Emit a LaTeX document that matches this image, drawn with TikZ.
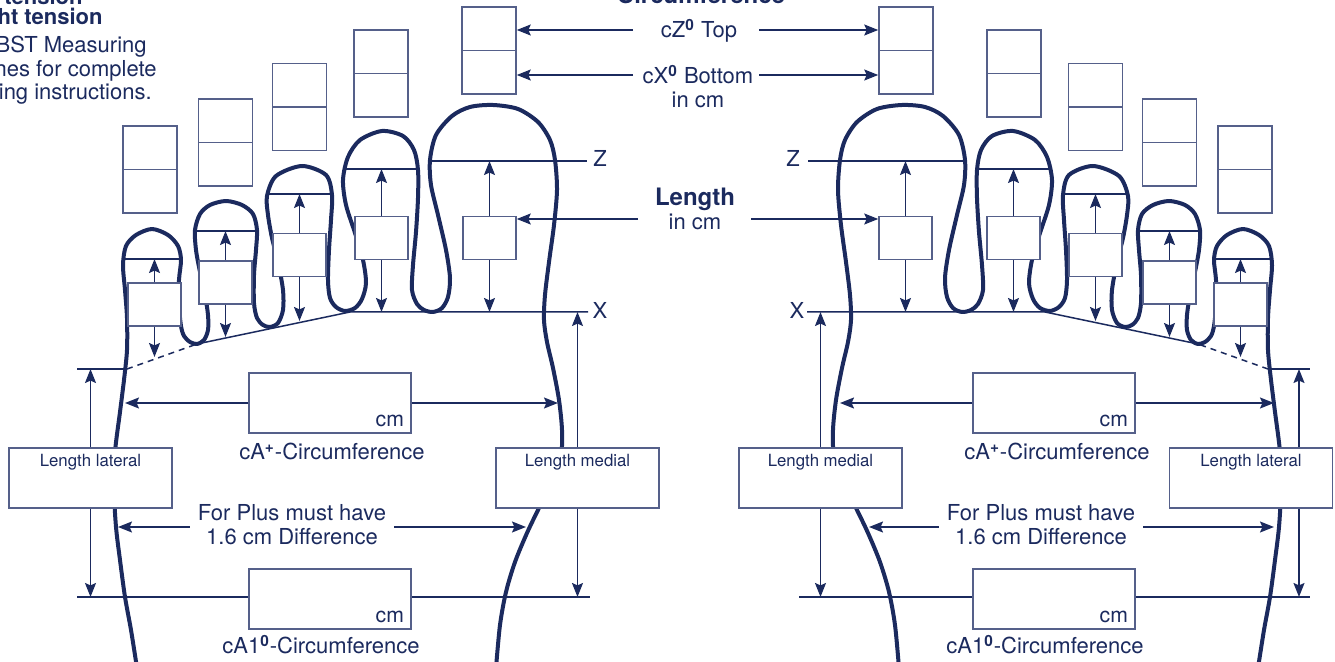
\documentclass[tikz,border=0pt]{standalone}
\usepackage{fontspec}
\setmainfont{TeX Gyre Heros}
\usetikzlibrary{arrows.meta}
\definecolor{navy}{HTML}{1B2A5E}
\definecolor{boxline}{HTML}{55608A}
\tikzset{
  foot/.style={navy,line width=2pt,line join=round},
  fine/.style={navy,line width=0.75pt},
  cbox/.style={draw=boxline,line width=0.75pt,fill=white,minimum width=27pt,minimum height=43.5pt,inner sep=0pt},
  lbox/.style={cbox,minimum width=26.5pt,minimum height=21.5pt},
  sidebox/.style={draw=boxline,line width=0.75pt,fill=white,text=navy,font=\fontsize{8.4}{10}\selectfont,minimum width=81.5pt,inner ysep=3pt,text height=6.5pt,text depth=17.5pt},
  cmbox/.style={draw=boxline,line width=0.75pt,fill=white,text=navy,font=\fontsize{10.6}{12}\selectfont,text width=74pt,inner xsep=3.5pt,align=right,inner ysep=2pt,text height=25pt,text depth=1pt},
  lab/.style={text=navy,font=\fontsize{11}{12}\selectfont,inner sep=0pt},
  hd/.style={text=navy,font=\bfseries\fontsize{12}{12}\selectfont,inner sep=0pt}
}
% one foot, toes and outline; mirrored for the right one
\newcommand\halffoot[1]{%
  \draw[foot] plot[smooth,tension=0.5] coordinates {(137,668) (131,630) (125,597) (120,560) (116,527) (114,490) (115,452) (120,412) (124,380) (127,350) (127,318) (125,290) (123,265) (126,246) (136,235) (152,229) (168,235) (178,246) (181,260) (179,280) (179,305) (181,326) (184,336) (190,342) (197,344) (204,340) (208,330) (208,315) (205,295) (200,272) (196,250) (195,230) (200,214) (210,205) (226,201) (242,205) (253,214) (257,230) (256,250) (254,275) (254,303) (257,318) (263,325) (270,327) (278,323) (283,310) (283,290) (278,262) (272,238) (268,215) (267,196) (276,176) (302,166) (326,175) (332,195) (331,220) (329,250) (328,280) (330,298) (336,307) (345,311) (355,308) (362,299) (366,283) (363,260) (355,233) (346,205) (343,180) (348,157) (360,140) (382,131) (403,136) (414,150) (418,170) (418,198) (416,232) (413,265) (412,290) (417,304) (424,310) (433,312) (442,308) (448,297) (450,278) (446,250) (438,215) (431,185) (430,160) (436,135) (452,116) (470,107) (493,105) (518,109) (538,122) (550,140) (555,160) (557,190) (554,225) (549,262) (545,295) (544,320) (547,342) (553,368) (559,400) (562,430) (561,455) (552,482) (539,508) (527,533) (515,562) (506,592) (500,625) (496,668)};
  \coordinate (#1a) at (127,369);
  \coordinate (#1b) at (197,344);
  \coordinate (#1p) at (350,312);
  \coordinate (#1x) at (588,312);
  \draw[fine,dash pattern=on 3pt off 2.5pt] (#1a) -- (#1b);
  \draw[fine] (#1b) -- (#1p) -- (#1x);
  \foreach \i/\lx/\ly/\cx/\cy/\zl/\zr/\zy/\by in {1/154.5/304.5/150/169.5/123/181/259/357,
      2/225.5/282.5/225.5/142.5/195/257/231/337, 3/299.5/255/299.5/107/267/332/194/321,
      4/381.5/238/381/73.5/343/418/169/312, 5/489.5/238/489/50.5/430/587/161/312}{
    \draw[fine] (\zl,\zy) -- (\zr,\zy);
    \node[lbox] (#1l\i) at (\lx,\ly) {};
    \node[cbox] (#1c\i) at (\cx,\cy) {};
    \draw[boxline,line width=0.75pt] (#1c\i.west) -- (#1c\i.east);
    \draw[fine,->] (#1l\i.north) -- (\lx,\zy);
    \draw[fine,->] (#1l\i.south) -- (\lx,\by);
  }}
\begin{document}
\begin{tikzpicture}[x=0.5pt,y=-0.5pt,>={Stealth[length=7pt,width=5.5pt,inset=1.2pt]}]
\useasboundingbox (0,0) rectangle (1335,662);
\halffoot{l}
\begin{scope}[xshift=697.5pt,xscale=-1]
\halffoot{r}
\end{scope}
% top left note
\node[hd,font=\bfseries\fontsize{11}{12}\selectfont,anchor=base east] (n1) at (83,5) {tension};
\node[hd,font=\bfseries\fontsize{11}{12}\selectfont,anchor=base east] (n2) at (103,25) {ht tension};
\node[lab,anchor=base east] (n3) at (147,53) {BST Measuring};
\node[lab,anchor=base east] (n4) at (157,77) {nes for complete};
\node[lab,anchor=base east] (n5) at (152,100) {ing instructions.};
% centre labels
\node[hd,anchor=base] (circ) at (701,4) {Circumference};
\node[lab,anchor=base] (ztop) at (699,38) {cZ\textsuperscript{\bfseries 0} Top};
\node[lab,anchor=base,align=center] (xbot) at (698,108) {cX\textsuperscript{\bfseries 0} Bottom\\in cm};
\node[lab,anchor=base,align=center] (len) at (695,230) {{\bfseries\fontsize{12}{12}\selectfont Length}\\in cm};
\coordinate (zl) at (633,30); \coordinate (zr) at (759,30);
\coordinate (xl) at (633,75); \coordinate (xr) at (759,75);
\coordinate (nl) at (638,219); \coordinate (nr) at (751,219);
\draw[fine,->] (zl) -- (zl -| lc5.east);
\draw[fine,->] (zr) -- (zr -| rc5.west);
\draw[fine,->] (xl) -- (xl -| lc5.east);
\draw[fine,->] (xr) -- (xr -| rc5.west);
\draw[fine,->] (nl) -- (nl -| ll5.east);
\draw[fine,->] (nr) -- (nr -| rl5.west);
\node[lab] (lz) at (600,158) {Z};
\node[lab] (lxl) at (600,310) {X};
\node[lab] (rz) at (793,158) {Z};
\node[lab] (rxl) at (797,310) {X};
% left foot, lower part
\coordinate (llt) at (77,369); \coordinate (llb) at (77,597); \coordinate (lrb) at (590,597);
\draw[fine] (llt) -- (la);
\draw[fine] (llb) -- (lrb);
\node[cmbox] (lcap) at (330,403) {cm};
\node[cmbox] (lca1) at (330,599) {cm};
\node[sidebox] (llat) at (90.5,478) {Length lateral};
\node[sidebox] (lmed) at (577.5,478) {Length medial};
\draw[fine,->] (llat.north) -- (llat.north |- llt);
\draw[fine,->] (llat.south) -- (llat.south |- llb);
\draw[fine,->] (lmed.north) -- (lmed.north |- lx);
\draw[fine,->] (lmed.south) -- (lmed.south |- llb);
\coordinate (lcl) at (125,403); \coordinate (lcr) at (558,403);
\draw[fine,->] (lcap.west) -- (lcl);
\draw[fine,->] (lcap.east) -- (lcr);
\node[lab,anchor=base] (lcapt) at (332,460) {cA\textsuperscript{\bfseries +}-Circumference};
\node[lab,anchor=base] (lca1t) at (321,654) {cA1\textsuperscript{\bfseries 0}-Circumference};
\node[lab,anchor=base,align=center,inner xsep=4pt] (lplus) at (292,545) {For Plus must have\\1.6 cm Difference};
\coordinate (lpl) at (118,527); \coordinate (lpr) at (526,527);
\draw[fine,->] (lplus.west |- lpl) -- (lpl);
\draw[fine,->] (lplus.east |- lpr) -- (lpr);
% right foot, lower part
\coordinate (rlt) at (1310,369); \coordinate (rrb) at (1310,597); \coordinate (rlb) at (799,597);
\draw[fine] (ra) -- (rlt);
\draw[fine] (rlb) -- (rrb);
\node[cmbox] (rcap) at (1054,403) {cm};
\node[cmbox] (rca1) at (1054,599) {cm};
\node[sidebox] (rlat) at (1251,478) {Length lateral};
\node[sidebox] (rmed) at (820.5,478) {Length medial};
\coordinate (rla) at (1299,369); \coordinate (rlc) at (1299,597);
\draw[fine,->] (rlat.north -| rla) -- (rla);
\draw[fine,->] (rlat.south -| rlc) -- (rlc);
\draw[fine,->] (rmed.north) -- (rmed.north |- rx);
\draw[fine,->] (rmed.south) -- (rmed.south |- rlb);
\coordinate (rcl) at (840,403); \coordinate (rcr) at (1274,403);
\draw[fine,->] (rcap.west) -- (rcl);
\draw[fine,->] (rcap.east) -- (rcr);
\node[lab,anchor=base] (rcapt) at (1057,460) {cA\textsuperscript{\bfseries +}-Circumference};
\node[lab,anchor=base] (rca1t) at (1045,654) {cA1\textsuperscript{\bfseries 0}-Circumference};
\node[lab,anchor=base,align=center,inner xsep=4pt] (rplus) at (1041,545) {For Plus must have\\1.6 cm Difference};
\coordinate (rpl) at (869,527); \coordinate (rpr) at (1274,527);
\draw[fine,->] (rplus.west |- rpl) -- (rpl);
\draw[fine,->] (rplus.east |- rpr) -- (rpr);
\end{tikzpicture}
\end{document}
